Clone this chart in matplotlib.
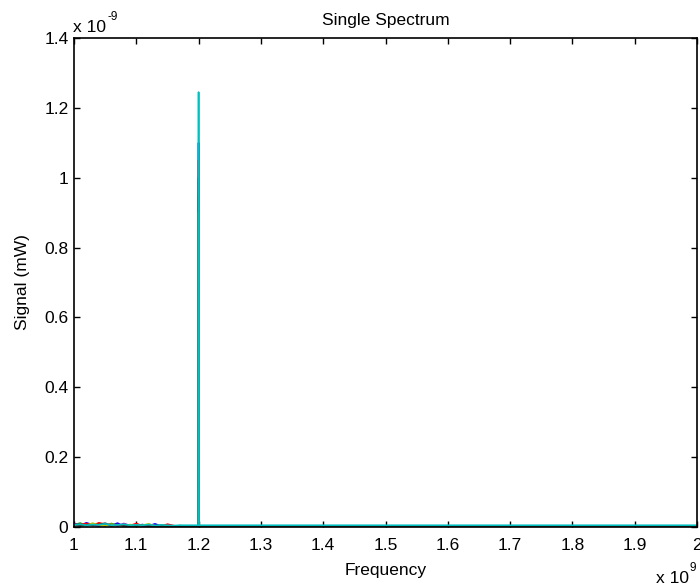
import numpy as np
import matplotlib.pyplot as plt

## Single spectrum: frequency in units of 1e9 Hz, signal in units of 1e-9 mW
plt.rcParams['font.family'] = ['Liberation Sans', 'DejaVu Sans']

freq = [1.00, 1.01, 1.02, 1.03, 1.04, 1.05, 1.06, 1.07, 1.08, 1.09,
        1.10, 1.11, 1.12, 1.13, 1.14, 1.15, 1.16, 1.17, 1.18, 1.19,
        1.1995, 1.2, 1.2005, 2.0]

sig_b = [0.010, 0.004, 0.012, 0.006, 0.003, 0.007, 0.005, 0.011, 0.002, 0.006,
         0.004, 0.007, 0.003, 0.009, 0.002, 0.004, 0.003, 0.002, 0.003, 0.002,
         0.002, 1.10, 0.003, 0.003]
sig_g = [0.006, 0.011, 0.004, 0.007, 0.008, 0.003, 0.010, 0.004, 0.007, 0.005,
         0.003, 0.006, 0.004, 0.002, 0.005, 0.003, 0.002, 0.004, 0.002, 0.003,
         0.002, 0.95, 0.003, 0.003]
sig_r = [0.005, 0.007, 0.010, 0.004, 0.012, 0.008, 0.003, 0.007, 0.005, 0.004,
         0.010, 0.003, 0.005, 0.004, 0.002, 0.008, 0.004, 0.002, 0.002, 0.003,
         0.002, 1.05, 0.003, 0.003]
sig_m = [0.009, 0.005, 0.006, 0.008, 0.004, 0.006, 0.007, 0.003, 0.010, 0.004,
         0.005, 0.004, 0.002, 0.004, 0.003, 0.002, 0.003, 0.003, 0.002, 0.002,
         0.002, 0.70, 0.003, 0.003]
sig_y = [0.004, 0.006, 0.005, 0.011, 0.005, 0.004, 0.008, 0.006, 0.003, 0.007,
         0.004, 0.005, 0.009, 0.003, 0.004, 0.002, 0.002, 0.003, 0.002, 0.002,
         0.002, 0.90, 0.003, 0.003]
sig_k = [0.007, 0.003, 0.006, 0.005, 0.007, 0.011, 0.004, 0.006, 0.004, 0.003,
         0.005, 0.004, 0.003, 0.003, 0.004, 0.003, 0.002, 0.002, 0.003, 0.002,
         0.002, 1.00, 0.003, 0.003]
sig_c = [0.006, 0.008, 0.005, 0.007, 0.006, 0.009, 0.005, 0.006, 0.008, 0.005,
         0.006, 0.005, 0.007, 0.004, 0.006, 0.005, 0.004, 0.005, 0.005, 0.005,
         0.005, 1.245, 0.005, 0.005]

series = [(sig_b, (0, 0, 1)), (sig_g, (0, 0.5, 0)), (sig_r, (1, 0, 0)),
          (sig_m, (0.75, 0, 0.75)), (sig_y, (0.75, 0.75, 0)),
          (sig_k, (0.25, 0.25, 0.25)), (sig_c, (0, 0.75, 0.75))]

xticks = [1.0, 1.1, 1.2, 1.3, 1.4, 1.5, 1.6, 1.7, 1.8, 1.9, 2.0]
xlabels = ['1', '1.1', '1.2', '1.3', '1.4', '1.5', '1.6', '1.7', '1.8', '1.9', '2']
yticks = [0, 0.2, 0.4, 0.6, 0.8, 1.0, 1.2, 1.4]
ylabels = ['0', '0.2', '0.4', '0.6', '0.8', '1', '1.2', '1.4']

fs = 12.5
W, H = 700, 588

fig = plt.figure(figsize=(7, 5.88), dpi=100)
ax = fig.add_axes([74/W, 1-527/H, 623/W, 489/H])

for s, col in series:
    ax.plot(freq, s, color=col, lw=1.2)

ax.set_xlim(1.0, 2.0)
ax.set_ylim(0, 1.4)
ax.set_xticks(xticks)
ax.set_xticklabels(xlabels)
ax.set_yticks(yticks)
ax.set_yticklabels(ylabels)
ax.tick_params(direction='in', length=4.5, width=1, top=True, right=True, labelsize=fs)
ax.tick_params(axis='x', pad=8)
ax.tick_params(axis='y', pad=4)
for sp in ax.spines.values():
    sp.set_linewidth(1.2)

ax.set_title('Single Spectrum', fontsize=fs, pad=9)
ax.set_xlabel('Frequency', fontsize=fs, labelpad=7)
ax.set_ylabel('Signal (mW)', fontsize=fs, labelpad=10)

# MATLAB-style exponent labels: "x 10" with a small raised exponent
def exp_label(x_px, base_px, expo, ha):
    t = fig.text(x_px/W, 1-base_px/H, 'x 10', ha='left', va='baseline', fontsize=fs)
    fig.canvas.draw()
    bb = t.get_window_extent()
    e = fig.text(bb.x1/W + 1/W, (H-base_px+12)/H, expo, ha='left', va='baseline', fontsize=8.5)
    if ha == 'right':
        eb = e.get_window_extent(fig.canvas.get_renderer())
        shift = (eb.x1 - x_px)/W
        t.set_x(t.get_position()[0] - shift)
        e.set_x(e.get_position()[0] - shift)

exp_label(73, 32, '-9', 'left')
exp_label(696, 583, '9', 'right')

plt.savefig('out.png')
plt.close('all')
